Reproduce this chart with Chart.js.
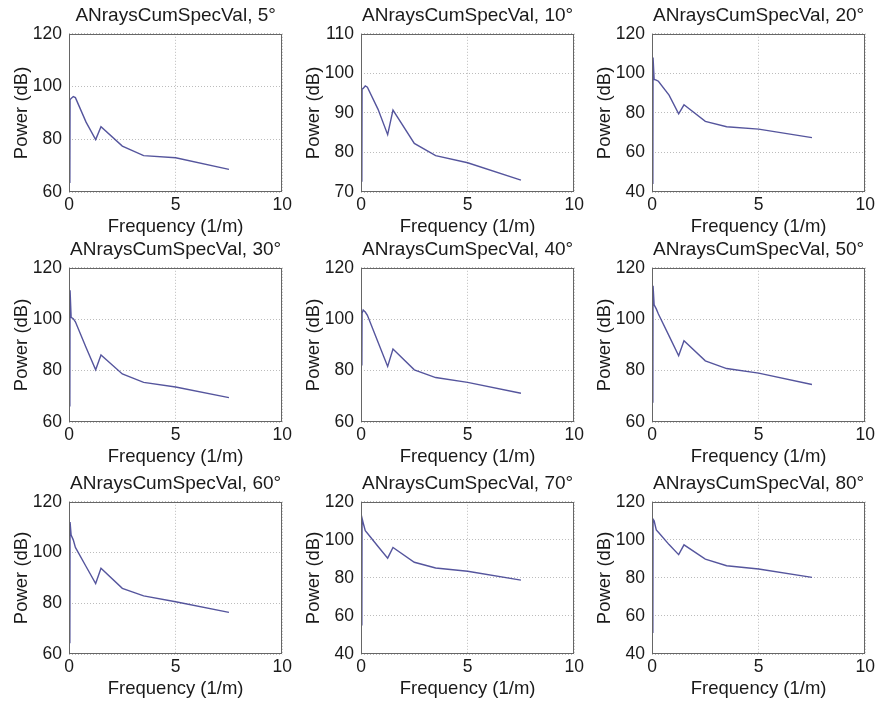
<!DOCTYPE html>
<html>
<head>
<meta charset="utf-8">
<script src="https://cdn.jsdelivr.net/npm/chart.js@4/dist/chart.umd.min.js"></script>
<style>
  html, body { margin: 0; padding: 0; background: #fff; overflow: hidden; }
  body { width: 878px; height: 702px; position: relative; }
  canvas { position: absolute; }
</style>
</head>
<body>
<script>
// frequency samples (1/m), shared by all nine panels
const freq = [0.04, 0.05, 0.1, 0.2, 0.3, 0.8, 1.25, 1.5, 2.5, 3.5, 5, 7.5];

// power (dB) per angle
const power5  = [63.4, 95.0, 95.5, 96.2, 95.8, 86.5, 79.9, 84.8, 77.4, 73.8, 73.0, 68.6];
const power10 = [72.6, 96.0, 96.2, 96.8, 96.5, 90.9, 84.5, 90.7, 82.3, 79.2, 77.4, 73.0];
const power20 = [44.0, 108.0, 96.9, 96.6, 96.0, 89.0, 79.5, 84.1, 75.7, 73.0, 71.8, 67.5];
const power30 = [66.0, 111.3, 100.7, 100.2, 99.0, 89.0, 80.3, 86.1, 78.7, 75.4, 73.6, 69.5];
const power40 = [82.0, 102.3, 103.6, 102.8, 101.5, 91.0, 81.6, 88.4, 80.3, 77.3, 75.4, 71.2];
const power50 = [67.5, 113.0, 105.6, 104.0, 102.0, 93.5, 85.8, 91.6, 83.8, 80.8, 79.0, 74.6];
const power60 = [64.2, 112.0, 106.9, 105.0, 102.0, 94.5, 87.8, 93.8, 85.9, 82.9, 80.6, 76.4];
const power70 = [55.0, 111.3, 109.0, 104.8, 103.5, 96.5, 90.4, 96.0, 88.2, 85.2, 83.5, 78.8];
const power80 = [51.0, 110.8, 110.0, 105.2, 104.0, 97.5, 92.2, 97.4, 89.9, 86.4, 84.7, 80.3];

const angles = ["5°", "10°", "20°", "30°", "40°", "50°", "60°", "70°", "80°"];
const series = [power5, power10, power20, power30, power40, power50, power60, power70, power80];

// y-axis limits and tick step per panel
const yMin  = [60, 70, 40, 60, 60, 60, 60, 40, 40];
const yMax  = [120, 110, 120, 120, 120, 120, 120, 120, 120];
const yStep = [20, 10, 20, 20, 20, 20, 20, 20, 20];

// panel placement (plot area edges in page pixels)
const colLeft = [69, 361, 652];
const rowTop = [34, 268, 502];
const rowBottom = [192, 422, 654];
const plotW = 215;
const yAxisW = 69;
const xAxisH = 50;
const titleH = 34;
const padRight = 11;

const font = "'Liberation Sans', Arial, sans-serif";
const textColor = "#1a1a1a";

const boxPlugin = {
  id: "box",
  afterDraw(chart) {
    const a = chart.chartArea;
    const c = chart.ctx;
    c.save();
    c.strokeStyle = "#666";
    c.lineWidth = 1;
    c.strokeRect(Math.round(a.left) + 0.5, Math.round(a.top) + 0.5,
      Math.round(a.right - a.left) - 1, Math.round(a.bottom - a.top) - 1);
    c.restore();
  }
};

for (let i = 0; i < 9; i++) {
  const col = i % 3;
  const row = Math.floor(i / 3);
  const canvas = document.createElement("canvas");
  const w = yAxisW + plotW + padRight;
  const h = titleH + (rowBottom[row] - rowTop[row]) + xAxisH;
  canvas.width = w;
  canvas.height = h;
  canvas.style.left = (colLeft[col] - yAxisW) + "px";
  canvas.style.top = (rowTop[row] - titleH) + "px";
  canvas.style.width = w + "px";
  canvas.style.height = h + "px";
  document.body.appendChild(canvas);

  const points = freq.map((f, k) => ({ x: f, y: series[i][k] }));

  new Chart(canvas.getContext("2d"), {
    type: "scatter",
    data: {
      datasets: [{
        data: points,
        showLine: true,
        borderColor: "rgba(55, 55, 140, 0.85)",
        borderWidth: 1.4,
        pointRadius: 0,
        tension: 0,
      }],
    },
    plugins: [boxPlugin],
    options: {
      responsive: false,
      animation: false,
      layout: { padding: { left: 0, right: padRight, top: 0, bottom: 0 } },
      plugins: {
        legend: { display: false },
        tooltip: { enabled: false },
        title: {
          display: true,
          text: "ANraysCumSpecVal, " + angles[i],
          fullSize: false,
          color: textColor,
          font: { family: font, size: 19, weight: "normal" },
          padding: { top: 4, bottom: 7 },
        },
      },
      scales: {
        x: {
          type: "linear",
          min: 0,
          max: 10,
          afterFit: (s) => { s.height = xAxisH; },
          ticks: {
            stepSize: 5,
            padding: 3,
            maxRotation: 0,
            color: textColor,
            font: { family: font, size: 17.5 },
          },
          grid: { color: "#bcbcbc", drawTicks: false },
          border: { display: false, dash: [1, 2] },
          title: {
            display: true,
            text: "Frequency (1/m)",
            color: textColor,
            font: { family: font, size: 18.5 },
            padding: { top: 0, bottom: 4 },
          },
        },
        y: {
          min: yMin[i],
          max: yMax[i],
          afterFit: (s) => { s.width = yAxisW; },
          ticks: {
            stepSize: yStep[i],
            padding: 7,
            color: textColor,
            font: { family: font, size: 17.5 },
          },
          grid: { color: "#bcbcbc", drawTicks: false },
          border: { display: false, dash: [1, 2] },
          title: {
            display: true,
            text: "Power (dB)",
            color: textColor,
            font: { family: font, size: 18.5 },
            padding: { top: 11, bottom: 0 },
          },
        },
      },
    },
  });
}
</script>
</body>
</html>
